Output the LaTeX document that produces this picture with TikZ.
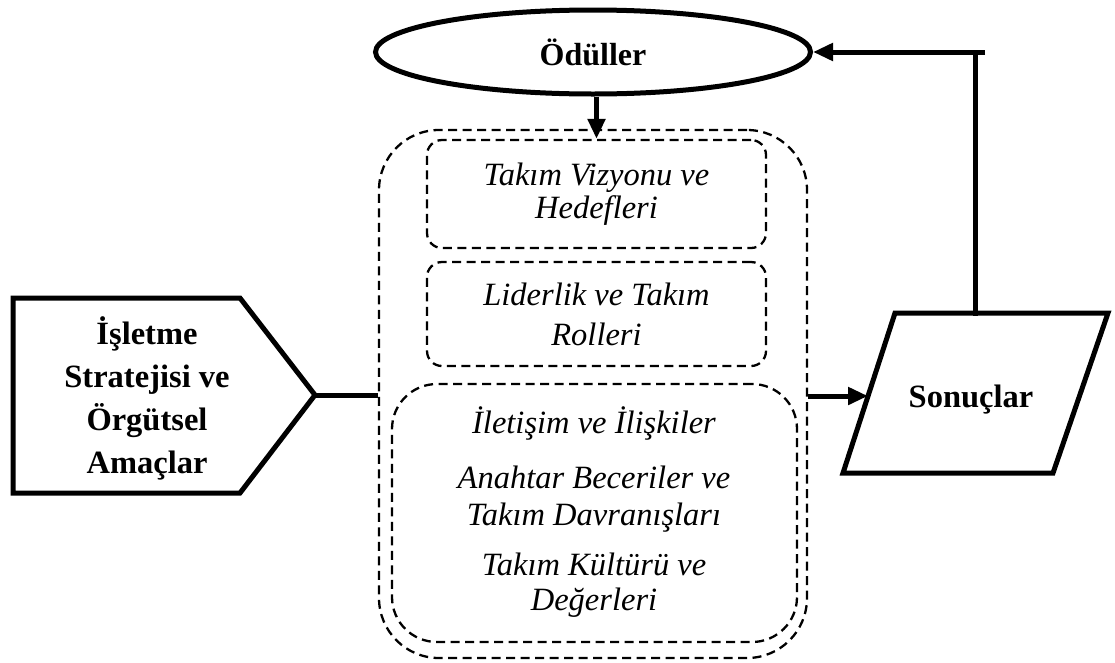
\documentclass[tikz,border=0pt]{standalone}
\usepackage{fontspec}
\setmainfont{Liberation Serif}
\usetikzlibrary{shapes.geometric,arrows.meta}
\begin{document}
\begin{tikzpicture}[x=1pt,y=-1pt,
  heavy/.style={line width=5pt, line join=miter},
  dashbox/.style={draw, line width=2.3pt, dash pattern=on 9pt off 5.5pt,
                  rounded corners=#1, inner sep=0pt},
  conn/.style={line width=5pt},
  arrowconn/.style={conn, -{Triangle[length=20pt,width=17pt]}},
  btext/.style={font=\fontsize{32.5}{43}\selectfont\bfseries, align=center},
  itext/.style={font=\fontsize{32.5}{#1}\selectfont\itshape, align=center},
]
\useasboundingbox (0,0) rectangle (1115,662);

% rewards ellipse
\node[ellipse, draw, line width=5pt, minimum width=435pt, minimum height=84pt,
      inner sep=0pt, font=\fontsize{32}{37}\selectfont\bfseries] (odul) at (593,52) {Ödüller};

% team components: outer frame and inner boxes
\node[dashbox=60pt, minimum width=428pt, minimum height=528pt] (outer) at (593,394) {};
\node[dashbox=15pt, minimum width=339pt, minimum height=108pt, itext=33pt] (box1) at (596.5,194)
  {Takım Vizyonu ve\\Hedefleri};
\node[dashbox=15pt, minimum width=339pt, minimum height=104pt, itext=40pt] (box2) at (596.5,314)
  {Liderlik ve Takım\\Rolleri};
\node[dashbox=45pt, minimum width=405pt, minimum height=258pt] (box3) at (594.5,513) {};
\node[itext=37pt, anchor=base] (t1) at (594,433) {İletişim ve İlişkiler};
\node[itext=37pt] (t2) at (594,499) {Anahtar Beceriler ve\\Takım Davranışları};
\node[itext=35pt] (t3) at (594,585) {Takım Kültürü ve\\Değerleri};

% strategy pentagon
\draw[heavy] (13,298) -- (240,298) -- (315,395) -- (240,493) -- (13,493) -- cycle;
\coordinate (tip) at (315,395);
\node[btext] (strat) at (147,398) {İşletme\\Stratejisi ve\\Örgütsel\\Amaçlar};

% results parallelogram
\draw[heavy] (895,313) -- (1108,313) -- (1053,473) -- (843,473) -- cycle;
\coordinate (sonW) at (868,396);
\coordinate (sonN) at (975,313);
\node[btext, anchor=base] (son) at (971,407) {Sonuçlar};

% connectors
\draw[conn] (tip) -- (tip -| outer.west);
\draw[arrowconn] (outer.east |- sonW) -- (sonW);
\draw[arrowconn] (odul.south -| box1.north) -- (box1.north);
\coordinate (fbEnd) at (985,52);
\draw[conn, line cap=rect] (sonN) -- (sonN |- fbEnd);
\draw[arrowconn] (fbEnd) -- (odul.east);
\end{tikzpicture}
\end{document}
